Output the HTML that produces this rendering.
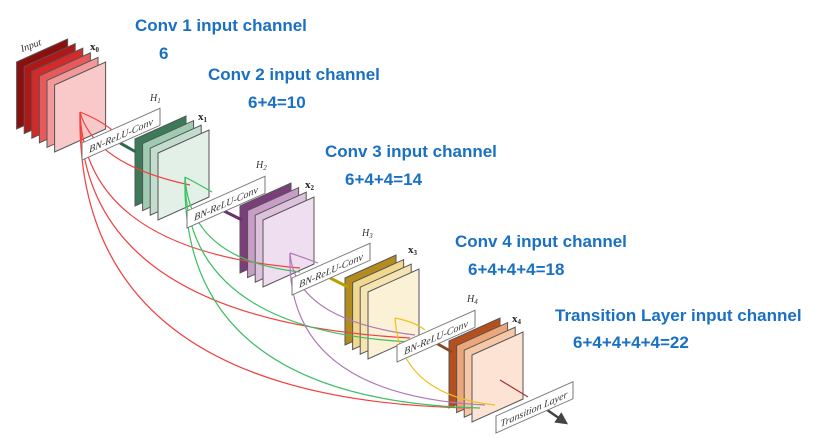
<!DOCTYPE html>
<html><head><meta charset="utf-8"><style>
body{margin:0;background:#fff;width:817px;height:443px;overflow:hidden}
svg{display:block}
.b{font-family:"Liberation Sans",sans-serif;font-weight:bold;fill:#1a70c2;font-size:17px}
.l{font-family:"Liberation Serif",serif;font-style:italic;font-size:10px;fill:#333}
.x{font-family:"Liberation Serif",serif;font-weight:bold;font-size:11px;fill:#222}
.s{stroke:#555;stroke-width:1}
</style></head><body>
<svg width="817" height="443" viewBox="0 0 817 443" xmlns="http://www.w3.org/2000/svg">
<defs>
<g id="sh"><path d="M0 0 L51 -23 L51 44 L0 67 Z"/></g>
<marker id="ar" markerWidth="6" markerHeight="6" refX="4" refY="2.5" orient="auto"><path d="M0 0 L5 2.5 L0 5Z" fill="#444"/></marker>
</defs>
<!-- x0 -->
<g class="s">
<use href="#sh" x="16.6" y="62" fill="#8a0f0f"/>
<use href="#sh" x="24.2" y="66.6" fill="#b01818"/>
<use href="#sh" x="31.8" y="71.2" fill="#d42a2a"/>
<use href="#sh" x="39.4" y="75.8" fill="#e85a5a"/>
<use href="#sh" x="47" y="80.4" fill="#f29a9a"/>
<use href="#sh" x="54.6" y="85" fill="#f9c8c8"/>
</g>
<!-- x1 -->
<g class="s">
<use href="#sh" x="135" y="139" fill="#3d7a5a"/>
<use href="#sh" x="142.6" y="143.6" fill="#a0cbb3"/>
<use href="#sh" x="150.2" y="148.2" fill="#c2ddcd"/>
<use href="#sh" x="158" y="153" fill="#e2f0e7"/>
</g>
<!-- x2 -->
<g class="s">
<use href="#sh" x="240" y="206" fill="#7a3f7a"/>
<use href="#sh" x="247.6" y="210.6" fill="#c89ec8"/>
<use href="#sh" x="255.2" y="215.2" fill="#dcc2dc"/>
<use href="#sh" x="263" y="220" fill="#efdeef"/>
</g>
<!-- x3 -->
<g class="s">
<use href="#sh" x="345" y="278" fill="#b38b1f"/>
<use href="#sh" x="352.6" y="282.6" fill="#f0d88f"/>
<use href="#sh" x="360.2" y="287.2" fill="#f6e5b2"/>
<use href="#sh" x="368" y="292" fill="#fbf1d6"/>
</g>
<!-- x4 -->
<g class="s">
<use href="#sh" x="449" y="341" fill="#b5501e"/>
<use href="#sh" x="456.6" y="345.6" fill="#eda679"/>
<use href="#sh" x="464.2" y="350.2" fill="#f6c8a8"/>
<use href="#sh" x="472" y="355" fill="#fce3d3"/>
</g>
<g fill="none" stroke-width="1.2">
<path d="M80 112 Q95 165 190 185" stroke="#f04040"/>
<path d="M80 112 Q85 250 300 268" stroke="#f04040"/>
<path d="M80 112 Q80 320 410 338" stroke="#f04040"/>
<path d="M80 112 Q75 400 470 408" stroke="#f04040"/>
<path d="M80 112 Q100 120 112 130" stroke="#f04040"/>
<path d="M185 177 Q200 185 212 192" stroke="#3cc060"/>
<path d="M185 177 Q190 260 300 272" stroke="#3cc060"/>
<path d="M185 177 Q185 330 410 342" stroke="#3cc060"/>
<path d="M185 177 Q180 400 480 408" stroke="#3cc060"/>
<path d="M290 253 Q305 258 318 263" stroke="#b07ab8"/>
<path d="M290 253 Q295 320 415 335" stroke="#b07ab8"/>
<path d="M290 253 Q285 395 485 405" stroke="#b07ab8"/>
<path d="M395 318 Q415 322 425 330" stroke="#f0c020"/>
<path d="M395 318 Q400 395 495 405" stroke="#f0c020"/>
</g>
<g stroke-width="3">
<line x1="120" y1="143" x2="136" y2="152" stroke="#2f6a48"/>
<line x1="224" y1="211" x2="242" y2="220" stroke="#6a306a"/>
<line x1="330" y1="278" x2="348" y2="287" stroke="#b8a000"/>
<line x1="436" y1="343" x2="452" y2="352" stroke="#8a4a2a"/>
</g>
<line x1="500" y1="380" x2="528" y2="397" stroke="#a03030" stroke-width="1.2"/>
<line x1="540" y1="405" x2="566" y2="423" stroke="#444" stroke-width="2.5" marker-end="url(#ar)"/>
<g transform="translate(82,160) skewY(-24)"><rect x="0" y="-17" width="78" height="17" fill="#fff" stroke="#777"/><text x="39" y="-4" text-anchor="middle" class="l">BN-ReLU-Conv</text></g>
<g transform="translate(187,228) skewY(-24)"><rect x="0" y="-17" width="78" height="17" fill="#fff" stroke="#777"/><text x="39" y="-4" text-anchor="middle" class="l">BN-ReLU-Conv</text></g>
<g transform="translate(292,295) skewY(-24)"><rect x="0" y="-17" width="78" height="17" fill="#fff" stroke="#777"/><text x="39" y="-4" text-anchor="middle" class="l">BN-ReLU-Conv</text></g>
<g transform="translate(397,362) skewY(-24)"><rect x="0" y="-17" width="78" height="17" fill="#fff" stroke="#777"/><text x="39" y="-4" text-anchor="middle" class="l">BN-ReLU-Conv</text></g>
<g transform="translate(496,433) skewY(-24)"><rect x="0" y="-17" width="77" height="17" fill="#fff" stroke="#777"/><text x="38" y="-4" text-anchor="middle" class="l">Transition Layer</text></g>
<g transform="translate(22,52) rotate(-20)"><text class="l" x="0" y="0">Input</text></g>
<text class="l" x="150" y="101" font-size="11">H<tspan font-size="7" dy="2">1</tspan></text>
<text class="l" x="256" y="168" font-size="11">H<tspan font-size="7" dy="2">2</tspan></text>
<text class="l" x="362" y="236" font-size="11">H<tspan font-size="7" dy="2">3</tspan></text>
<text class="l" x="467" y="302" font-size="11">H<tspan font-size="7" dy="2">4</tspan></text>
<text class="x" x="90" y="50">x<tspan font-size="7" dy="2">0</tspan></text>
<text class="x" x="198" y="120">x<tspan font-size="7" dy="2">1</tspan></text>
<text class="x" x="305" y="188">x<tspan font-size="7" dy="2">2</tspan></text>
<text class="x" x="408" y="253">x<tspan font-size="7" dy="2">3</tspan></text>
<text class="x" x="512" y="322">x<tspan font-size="7" dy="2">4</tspan></text>
<text class="b" x="135" y="31">Conv 1 input channel</text>
<text class="b" x="159" y="59">6</text>
<text class="b" x="208" y="80">Conv 2 input channel</text>
<text class="b" x="248" y="108">6+4=10</text>
<text class="b" x="325" y="157">Conv 3 input channel</text>
<text class="b" x="345" y="185">6+4+4=14</text>
<text class="b" x="455" y="247">Conv 4 input channel</text>
<text class="b" x="468" y="275">6+4+4+4=18</text>
<text class="b" x="555" y="321">Transition Layer input channel</text>
<text class="b" x="573" y="348">6+4+4+4+4=22</text>
</svg>
</body></html>
